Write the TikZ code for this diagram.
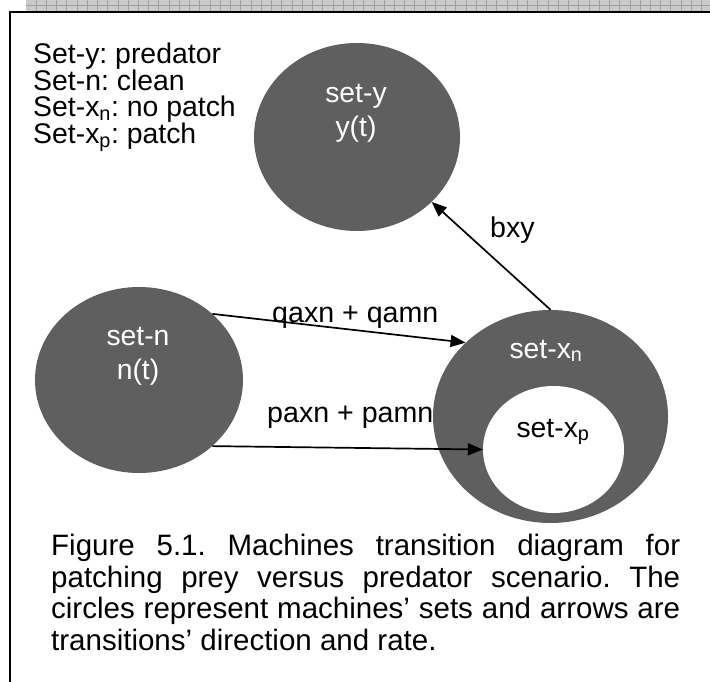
\documentclass[tikz,border=0pt]{standalone}
\usepackage{fontspec}
\setmainfont{Liberation Sans}
\usetikzlibrary{shapes.geometric,arrows.meta}
\definecolor{setgray}{RGB}{95,95,95}
\definecolor{bandfill}{RGB}{202,202,202}
\definecolor{bandline}{RGB}{160,160,160}
\frenchspacing
\begin{document}
\begin{tikzpicture}[x=1bp,y=-1bp,
  setshape/.style={ellipse, fill=setgray, draw=none, inner sep=0pt},
  holeshape/.style={ellipse, fill=white, draw=none, inner sep=0pt},
  legend/.style={anchor=base west, inner sep=0pt, text height=19bp, text depth=4bp,
    font=\fontsize{28.4bp}{26bp}\selectfont},
  settext/.style={anchor=base, inner sep=0pt, text height=20bp, text depth=6bp,
    text=white, font=\fontsize{28.3bp}{30bp}\selectfont},
  ratelabel/.style={anchor=base west, inner sep=0pt, font=\fontsize{28.6bp}{30bp}\selectfont},
  captionline/.style={anchor=base west, inner sep=0pt, text height=21bp, text depth=6bp,
    font=\fontsize{29.5bp}{32bp}\selectfont},
  flow/.style={-{Triangle[length=15bp,width=12bp]}, line width=1.7bp},
]
\useasboundingbox (0,0) rectangle (710,682);

% hatched band along the top
\fill[bandfill] (26,0) rectangle (710,11);
\foreach \k in {0,...,65}
  \draw[bandline, line width=0.8bp] ({36+10.24*\k},0) -- ({36+10.24*\k},11);
\draw[bandline, line width=0.8bp] (26,5.3) -- (710,5.3);

% frame
\draw[line width=2.5bp] (10,682) -- (10,12) -- (710,12);

% machine sets
\node[setshape, minimum width=206bp, minimum height=188bp] (sety) at (357,137) {};
\node[setshape, minimum width=208bp, minimum height=186bp] (setn) at (139,380) {};
\node[setshape, minimum width=235bp, minimum height=213bp] (setxn) at (550.5,416.5) {};
\node[holeshape, minimum width=141bp, minimum height=127bp] (setxp) at (553.5,449.5) {};

% set labels
\node[settext] (tsety) at (356,103) {set-y};
\node[settext] (tyt) at (356,137) {y(t)};
\node[settext] (tsetn) at (138,345) {set-n};
\node[settext] (tnt) at (138,379) {n(t)};
\node[settext] (tsetxn) at (546,358) {set-x\textsubscript{n}};
\node[settext, text=black] (tsetxp) at (553,437) {set-x\textsubscript{p}};

% transitions
\draw[flow] (setn.42) -- (setxn.139);
\draw[flow] (setn.-42.5) -- (setxp.west);
\draw[flow] (setxn.north) -- (sety.-41.3);

% rates
\node[ratelabel] (lq) at (272,322) {qaxn + qamn};
\node[ratelabel] (lp) at (267,422) {paxn + pamn};
\node[ratelabel] (lb) at (490,237) {bxy};

% legend
\node[legend] (leg1) at (33,64) {Set-y: predator};
\node[legend] (leg2) at (33,90.5) {Set-n: clean};
\node[legend] (leg3) at (33,117) {Set-x\textsubscript{n}: no patch};
\node[legend] (leg4) at (33,143.5) {Set-x\textsubscript{p}: patch};

% caption
\node[captionline] (cap1) at (51,555) {\makebox[629bp][s]{Figure 5.1. Machines transition diagram for}};
\node[captionline] (cap2) at (51,587) {\makebox[629bp][s]{patching prey versus predator scenario. The}};
\node[captionline] (cap3) at (51,618) {\makebox[629bp][s]{circles represent machines’ sets and arrows are}};
\node[captionline] (cap4) at (51,650) {transitions’ direction and rate.};
\end{tikzpicture}
\end{document}
